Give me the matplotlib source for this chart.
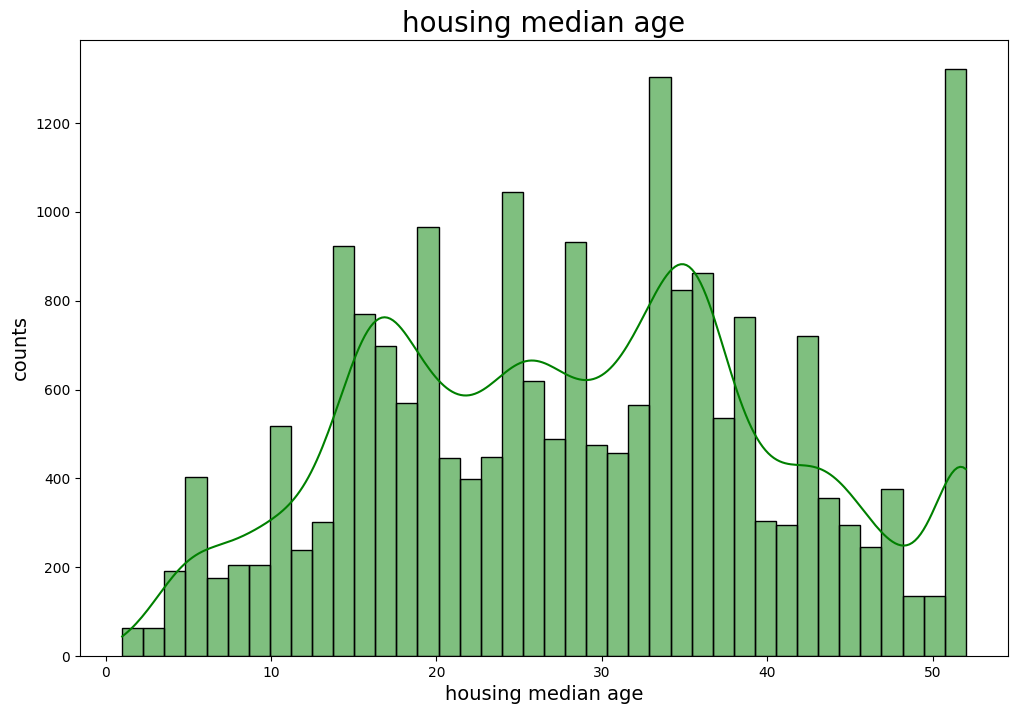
import numpy as np
import matplotlib
matplotlib.use("Agg")
import matplotlib.pyplot as plt

# Histogram data (40 equal bins from 1 to 52)
bin_start = 1.0
bin_end = 52.0
n_bins = 40
counts = [63, 62, 191, 404, 175, 206, 205, 518, 238, 302,
          924, 771, 698, 570, 967, 446, 399, 448, 1044, 619,
          488, 932, 476, 458, 565, 1304, 824, 862, 537, 763,
          304, 296, 721, 356, 294, 245, 375, 134, 136, 1321]
# Estimated share of a two-year bin that falls on its later year
# (judged from the shape of the density curve; 0.5 = even split)
upper_year_share = [0.5] * 39 + [0.96]

title = "housing median age"
xlabel = "housing median age"
ylabel = "counts"

edges = np.linspace(bin_start, bin_end, n_bins + 1)
widths = np.diff(edges)
w = np.asarray(counts, dtype=float)

# Ages are whole years: place each bin's count on the whole years it holds
pos, wt = [], []
for i in range(n_bins):
    lo, hi = edges[i], edges[i + 1]
    yrs = [k for k in range(int(bin_start), int(bin_end) + 1)
           if (lo <= k < hi) or (i == n_bins - 1 and k == hi)]
    if len(yrs) == 2:
        shares = [1 - upper_year_share[i], upper_year_share[i]]
    else:
        shares = [1.0 / len(yrs)] * len(yrs)
    for k, s in zip(yrs, shares):
        pos.append(k)
        wt.append(w[i] * s)
pos = np.asarray(pos, dtype=float)
wt = np.asarray(wt)

fig = plt.figure(figsize=(10.19, 7.14), dpi=100)
ax = fig.add_axes([80 / 1019, 58 / 714, 928 / 1019, 616 / 714])

ax.bar(edges[:-1], w, width=widths, align="edge", color="green", alpha=0.5,
       edgecolor="none", linewidth=0)
ax.bar(edges[:-1], w, width=widths, align="edge", facecolor="none",
       edgecolor="black", linewidth=1)

# Gaussian KDE (Scott's rule), scaled to counts per bin
total = wt.sum()
mean = np.sum(wt * pos) / total
std = np.sqrt(np.sum(wt * (pos - mean) ** 2) / total)
bw = std * total ** (-1 / 5)
grid = np.linspace(bin_start, bin_end, 300)
dens = np.sum(wt[None, :] * np.exp(-0.5 * ((grid[:, None] - pos[None, :]) / bw) ** 2), axis=1)
dens = dens / (total * bw * np.sqrt(2 * np.pi))
ax.plot(grid, dens * total * widths.mean(), color="green", linewidth=1.5)

ax.set_title(title, fontsize=20)
ax.set_xlabel(xlabel, fontsize=14)
ax.set_ylabel(ylabel, fontsize=14)

fig.savefig("out.png", dpi=100)
